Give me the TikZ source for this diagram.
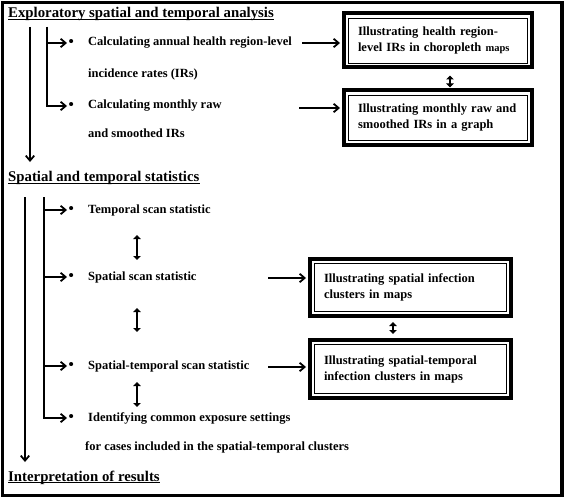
\documentclass[tikz,border=0pt]{standalone}
\usepackage{fontspec}
\setmainfont{Liberation Serif}
\usetikzlibrary{arrows.meta}

\newcommand{\bul}{\makebox[19.5pt][l]{\raisebox{-.6pt}{\fontsize{15}{15}\selectfont\textbullet}}}

\begin{document}
\begin{tikzpicture}[x=1pt, y=-1pt, >={Straight Barb[length=5pt, width=8.5pt, line width=1.8pt]},
    font=\bfseries\fontsize{12.5}{16}\selectfont,
    head/.style={anchor=base west, inner sep=0pt, font=\bfseries\fontsize{14.8}{17}\selectfont},
    item/.style={anchor=west, inner sep=1.5pt},
    trunk/.style={line width=1.7pt},
    dbl/.style={line width=2.4pt, {Triangle[length=4pt, width=7.5pt]}-{Triangle[length=4pt, width=7.5pt]}},
    framebox/.style={draw, line width=4pt, align=left, inner xsep=14pt, inner ysep=0pt,
        path picture={\draw[line width=.9pt] ([shift={(4.5pt,4.5pt)}]path picture bounding box.south west)
            rectangle ([shift={(-4.5pt,-4.5pt)}]path picture bounding box.north east);}}]
    \useasboundingbox (0,0) rectangle (567,500);
    \draw[line width=3.5pt] (2.5,2.5) rectangle (562,495.5);

    % exploratory analysis
    \node[head] (expl) at (8,17.5) {Exploratory spatial and temporal analysis};
    \draw[line width=1.1pt] ([yshift=-1.8pt]expl.base west) -- ([yshift=-1.8pt]expl.base east);
    \coordinate (s1) at (30,27);
    \coordinate (e1) at (30,162);
    \coordinate (b1) at (47,27);
    \node[item] (calcA) at (67,43) {\bul Calculating annual health region-level};
    \node[item] (calcAb) at (86.5,74) {incidence rates (IRs)};
    \node[item] (calcB) at (67,106) {\bul Calculating monthly raw};
    \node[item] (calcBb) at (86.5,133) {and smoothed IRs};
    \draw[trunk, ->] (s1) -- (e1);
    \draw[trunk, ->] (b1) |- (calcA.west);
    \draw[trunk, ->] (b1) |- (calcB.west);

    \node[framebox, minimum width=188pt, minimum height=54pt, text width=160pt] (irmap) at (438,40.5)
        {Illustrating health region-\\level IRs in choropleth {\fontsize{10.5}{16}\selectfont maps}};
    \node[framebox, minimum width=188pt, minimum height=54pt, text width=160pt] (irgraph) at (438,117.5)
        {Illustrating monthly raw and\\smoothed IRs in a graph};
    \coordinate (p1) at (302,43);
    \coordinate (p2) at (299,108);
    \draw[trunk, ->, shorten >=2pt] (p1) -- (p1 -| irmap.west);
    \draw[trunk, ->, shorten >=2pt] (p2) -- (p2 -| irgraph.west);
    \draw[dbl, shorten <=6pt, shorten >=1pt] ([xshift=12pt]irmap.south) -- ([xshift=12pt]irgraph.north);

    % scan statistics
    \node[head] (stat) at (8,181.5) {Spatial and temporal statistics};
    \draw[line width=1.1pt] ([yshift=-1.8pt]stat.base west) -- ([yshift=-1.8pt]stat.base east);
    \coordinate (s2) at (25,197);
    \coordinate (e2) at (25,462);
    \coordinate (b2) at (44,197);
    \node[item] (tempo) at (67,210) {\bul Temporal scan statistic};
    \node[item] (spat) at (67,277) {\bul Spatial scan statistic};
    \node[item] (sptemp) at (67,366) {\bul Spatial-temporal scan statistic};
    \node[item] (ident) at (67,418) {\bul Identifying common exposure settings};
    \node[item] (identb) at (83.5,447) {for cases included in the spatial-temporal clusters};
    \draw[trunk, ->] (s2) -- (e2);
    \foreach \n in {tempo, spat, sptemp, ident}
        \draw[trunk, ->] (b2) |- (\n.west);

    \coordinate (c) at (137,0);
    \draw[dbl, shorten <=25pt, shorten >=17pt] (c |- tempo.west) -- (c |- spat.west);
    \draw[dbl, shorten <=31pt, shorten >=34pt] (c |- spat.west) -- (c |- sptemp.west);
    \draw[dbl, shorten <=16pt, shorten >=11pt] (c |- sptemp.west) -- (c |- ident.west);

    \node[framebox, minimum width=201pt, minimum height=57pt, text width=173pt] (clmap) at (410.5,287.5)
        {Illustrating spatial infection\\clusters in maps};
    \node[framebox, minimum width=201pt, minimum height=58pt, text width=173pt] (stmap) at (410.5,369)
        {Illustrating spatial-temporal\\infection clusters in maps};
    \coordinate (p3) at (268,278);
    \coordinate (p4) at (268,367);
    \draw[trunk, ->, shorten >=2pt] (p3) -- (p3 -| clmap.west);
    \draw[trunk, ->, shorten >=2pt] (p4) -- (p4 -| stmap.west);
    \draw[dbl, shorten <=4pt, shorten >=4pt] ([xshift=-17.5pt]clmap.south) -- ([xshift=-17.5pt]stmap.north);

    % results
    \node[head] (interp) at (8,481) {Interpretation of results};
    \draw[line width=1.1pt] ([yshift=-1.8pt]interp.base west) -- ([yshift=-1.8pt]interp.base east);
\end{tikzpicture}
\end{document}
